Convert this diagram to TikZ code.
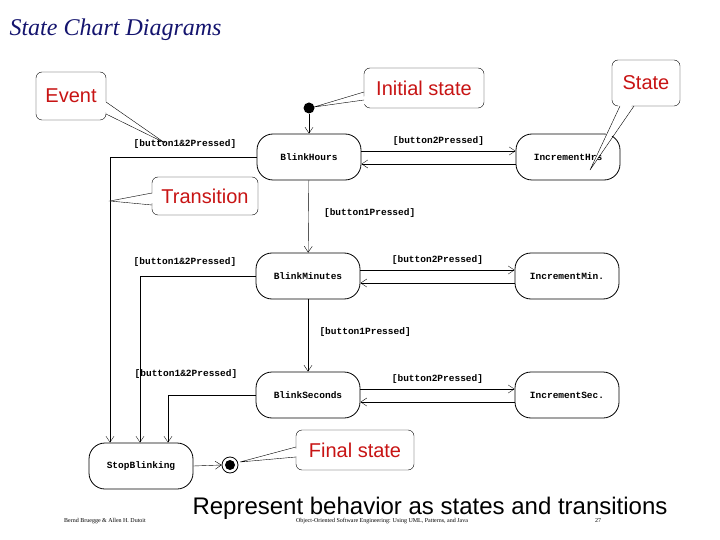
\documentclass[tikz,border=0pt]{standalone}
\usepackage{fontspec}
\setmainfont{Liberation Serif}
\setsansfont{Liberation Sans}
\setmonofont{Liberation Mono}
\usetikzlibrary{arrows.meta}
\definecolor{callred}{RGB}{200,20,20}
\definecolor{titleblue}{RGB}{20,20,110}
\begin{document}
\begin{tikzpicture}[x=1pt,y=-1pt,
  st/.style={draw,thick,rounded corners=16pt,minimum width=104pt,minimum height=46pt,font=\ttfamily\bfseries\fontsize{9.5}{11}\selectfont},
  ev/.style={font=\ttfamily\bfseries\fontsize{9.5}{11}\selectfont},
  tr/.style={draw,-{Straight Barb[length=6pt,width=8pt]}},
  co/.style={draw,fill=white,rounded corners=6pt,inner sep=0pt,text=callred,font=\sffamily\fontsize{20}{22}\selectfont},
  wedge/.style={fill=white}]
\useasboundingbox (0,0) rectangle (720,540);
\node[anchor=west,font=\itshape\fontsize{24}{26}\selectfont,text=titleblue] (title) at (6,30) {State Chart Diagrams};
% states
\node[st] (bh) at (309,157) {BlinkHours};
\node[st] (ih) at (568,157) {IncrementHrs};
\node[st] (bm) at (308,276) {BlinkMinutes};
\node[st] (im) at (567,276) {IncrementMin.};
\node[st] (bs) at (308,395) {BlinkSeconds};
\node[st] (is) at (567,395) {IncrementSec.};
\node[st] (sb) at (141,466) {StopBlinking};
\node[circle,fill,inner sep=0pt,minimum size=11pt] (init) at (309,108) {};
\node[circle,draw,thick,inner sep=0pt,minimum size=16pt] (fin) at (230,465) {};
\node[circle,fill,inner sep=0pt,minimum size=10pt] (finc) at (230,465) {};
\coordinate (k1) at (110,157);
\coordinate (k2) at (140,276);
\coordinate (k3) at (168,395);
% transitions
\draw[tr] (init) -- (bh);
\draw[tr] (bh) -- node[ev,right,pos=0.45,xshift=12pt] {[button1Pressed]} (bm);
\draw[tr] (bm) -- node[ev,right,pos=0.45,xshift=8pt] {[button1Pressed]} (bs);
\draw[tr] ([yshift=6pt]bh.east) -- node[ev,above,yshift=2pt] {[button2Pressed]} ([yshift=6pt]ih.west);
\draw[tr] ([yshift=-7pt]ih.west) -- ([yshift=-7pt]bh.east);
\draw[tr] ([yshift=6pt]bm.east) -- node[ev,above,yshift=2pt] {[button2Pressed]} ([yshift=6pt]im.west);
\draw[tr] ([yshift=-7pt]im.west) -- ([yshift=-7pt]bm.east);
\draw[tr] ([yshift=6pt]bs.east) -- node[ev,above,yshift=2pt] {[button2Pressed]} ([yshift=6pt]is.west);
\draw[tr] ([yshift=-7pt]is.west) -- ([yshift=-7pt]bs.east);
\draw[tr] (bh.west) -- (k1) -- (k1|-sb.north);
\draw[tr] (bm.west) -- (k2) -- (k2|-sb.north);
\draw[tr] (bs.west) -- (k3) -- (k3|-sb.north);
\node[ev] (e1) at (185,144) {[button1\&2Pressed]};
\node[ev] (e2) at (185,262) {[button1\&2Pressed]};
\node[ev] (e3) at (186,374) {[button1\&2Pressed]};
\draw[tr] (sb.east) -- (fin.west);
% callouts
\node[co,minimum width=70pt,minimum height=48pt] (cev) at (71,96) {Event};
\fill[white] (101,110) -- (165,143) -- (103,100) -- cycle;
\draw (106,114) -- (165,143) -- (106,102);
\node[co,minimum width=120pt,minimum height=40pt] (cin) at (424,88) {Initial state};
\fill[white] (366,96) -- (314,107) -- (366,104) -- cycle;
\draw (364,92) -- (314,107) -- (364,100);
\node[co,minimum width=68pt,minimum height=46pt] (cst) at (646,83) {State};
\fill[white] (620,102) -- (590,170) -- (634,102) -- cycle;
\draw (620,106) -- (590,170) -- (634,106);
\node[co,minimum width=106pt,minimum height=38pt] (ctr) at (205,196) {Transition};
\fill[white] (155,193) -- (110,201) -- (155,203) -- cycle;
\draw (152,193) -- (110,201) -- (152,205);
\node[co,minimum width=118pt,minimum height=40pt] (cfi) at (355,450) {Final state};
\fill[white] (299,448) -- (240,462) -- (299,456) -- cycle;
\draw (296,447) -- (240,462) -- (296,457);
% footer
\node[font=\sffamily\fontsize{24}{26}\selectfont] (sub) at (430,508) {Represent behavior as states and transitions};
\node[font=\fontsize{6}{7}\selectfont] (f1) at (105,521) {Bernd Bruegge \& Allen H. Dutoit};
\node[font=\fontsize{6}{7}\selectfont] (f2) at (382,521) {Object-Oriented Software Engineering: Using UML, Patterns, and Java};
\node[font=\fontsize{6}{7}\selectfont] (f3) at (598,521) {27};
\end{tikzpicture}
\end{document}
